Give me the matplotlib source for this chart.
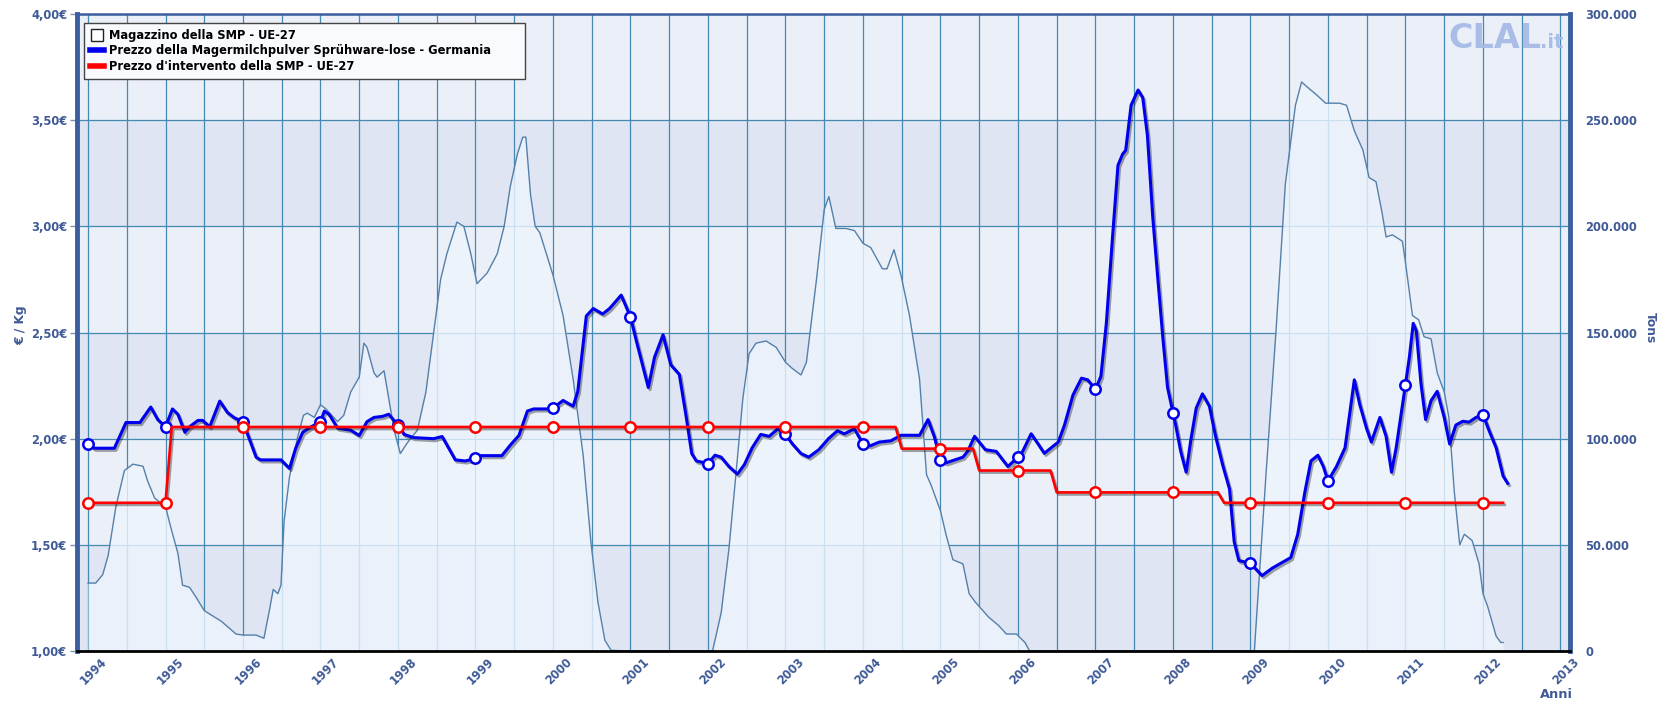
import matplotlib
matplotlib.use('Agg')
import matplotlib.pyplot as plt
import matplotlib.patheffects as pe
import matplotlib.transforms as mtrans
from matplotlib.lines import Line2D
from matplotlib.ticker import MultipleLocator, FuncFormatter

plt.rcParams['font.family'] = ['DejaVu Sans']
plt.rcParams['font.weight'] = 'bold'

### data ###

# Magazzino della SMP - UE-27 (tons)
stock_t = [1994.0, 1994.1, 1994.19, 1994.26, 1994.36, 1994.47, 1994.58, 1994.71, 1994.77, 1994.86,
           1995.0, 1995.07, 1995.16, 1995.22, 1995.31, 1995.4, 1995.5, 1995.72, 1995.91,
           1996.0, 1996.17, 1996.27, 1996.34, 1996.39, 1996.45, 1996.49, 1996.53, 1996.6, 1996.7,
           1996.78, 1996.83, 1996.92, 1997.0, 1997.07, 1997.22, 1997.3, 1997.39, 1997.5, 1997.56,
           1997.6, 1997.69, 1997.73, 1997.82, 1997.88, 1997.95, 1998.03, 1998.12, 1998.25, 1998.36,
           1998.46, 1998.55, 1998.63, 1998.76, 1998.85, 1998.94, 1999.02, 1999.15, 1999.28, 1999.37,
           1999.45, 1999.54, 1999.61, 1999.65, 1999.71, 1999.77, 1999.83, 2000.0, 2000.13, 2000.26,
           2000.39, 2000.49, 2000.58, 2000.67, 2000.75, 2001.0, 2002.0, 2002.06, 2002.17, 2002.27,
           2002.36, 2002.45, 2002.53, 2002.62, 2002.75, 2002.88, 2003.0, 2003.09, 2003.2, 2003.27,
           2003.4, 2003.5, 2003.56, 2003.65, 2003.78, 2003.89, 2004.0, 2004.1, 2004.25, 2004.31,
           2004.4, 2004.49, 2004.6, 2004.73, 2004.82, 2004.88, 2005.0, 2005.07, 2005.16, 2005.29,
           2005.37, 2005.45, 2005.62, 2005.75, 2005.85, 2005.98, 2006.09, 2006.15, 2007.0, 2008.0,
           2009.0, 2009.05, 2009.2, 2009.33, 2009.45, 2009.58, 2009.66, 2009.72, 2009.85, 2009.97,
           2010.15, 2010.24, 2010.34, 2010.45, 2010.53, 2010.62, 2010.7, 2010.75, 2010.83, 2010.96,
           2011.0, 2011.09, 2011.17, 2011.24, 2011.33, 2011.41, 2011.5, 2011.56, 2011.63, 2011.7,
           2011.76, 2011.86, 2011.95, 2012.0, 2012.06, 2012.17, 2012.23, 2012.26]
stock_v = [32000, 32000, 36000, 45000, 68000, 85000, 88000, 87000, 80000, 72000,
           68000, 58000, 46000, 31000, 30000, 25000, 19000, 14000, 8000,
           7500, 7500, 6000, 19000, 29000, 27000, 31000, 61000, 82000, 100000,
           111000, 112000, 110000, 116000, 114000, 108000, 111000, 122000, 129000, 145000,
           143000, 131000, 129000, 132000, 119000, 104000, 93000, 98000, 104000, 122000,
           150000, 175000, 187000, 202000, 200000, 187000, 173000, 178000, 187000, 200000,
           219000, 234000, 242000, 242000, 215000, 200000, 197000, 177000, 158000, 128000,
           92000, 51000, 23000, 5000, 300, 0, 0, 200, 18000, 48000,
           83000, 119000, 140000, 145000, 146000, 143000, 136000, 133000, 130000, 136000,
           175000, 208000, 214000, 199000, 199000, 198000, 192000, 190000, 180000, 180000,
           189000, 177000, 158000, 128000, 83000, 78000, 66000, 55000, 43000, 41000,
           27000, 23000, 16000, 12000, 8000, 8000, 4000, 0, 0, 0,
           0, 0, 83000, 151000, 220000, 257000, 268000, 266000, 262000, 258000,
           258000, 257000, 245000, 236000, 223000, 221000, 206000, 195000, 196000, 193000,
           183000, 158000, 156000, 148000, 147000, 131000, 122000, 110000, 75000, 50000,
           55000, 52000, 41000, 27000, 21000, 7000, 4000, 4000]

# Prezzo della Magermilchpulver Spruehware-lose - Germania (EUR/kg)
price_t = [1994.0, 1994.08, 1994.2, 1994.34, 1994.49, 1994.67, 1994.81, 1994.9, 1995.0, 1995.09,
           1995.16, 1995.25, 1995.31, 1995.42, 1995.48, 1995.57, 1995.7, 1995.8, 1995.89, 1996.0,
           1996.06, 1996.17, 1996.23, 1996.49, 1996.6, 1996.68, 1996.77, 1996.88, 1997.0, 1997.05,
           1997.11, 1997.22, 1997.39, 1997.5, 1997.6, 1997.69, 1997.8, 1997.88, 1998.0, 1998.08,
           1998.2, 1998.46, 1998.57, 1998.74, 1998.87, 1999.0, 1999.06, 1999.34, 1999.45, 1999.56,
           1999.67, 1999.75, 1999.92, 2000.0, 2000.13, 2000.26, 2000.32, 2000.43, 2000.52, 2000.64,
           2000.73, 2000.88, 2001.0, 2001.08, 2001.23, 2001.31, 2001.42, 2001.52, 2001.63, 2001.72,
           2001.79, 2001.85, 2002.0, 2002.09, 2002.17, 2002.27, 2002.38, 2002.47, 2002.57, 2002.68,
           2002.79, 2002.9, 2003.0, 2003.09, 2003.2, 2003.3, 2003.43, 2003.56, 2003.67, 2003.76,
           2003.89, 2004.0, 2004.09, 2004.21, 2004.36, 2004.49, 2004.73, 2004.84, 2004.92, 2005.0,
           2005.07, 2005.29, 2005.35, 2005.44, 2005.58, 2005.72, 2005.87, 2006.0, 2006.06, 2006.17,
           2006.26, 2006.34, 2006.52, 2006.6, 2006.71, 2006.82, 2006.9, 2007.0, 2007.07, 2007.14,
           2007.22, 2007.29, 2007.35, 2007.39, 2007.46, 2007.55, 2007.61, 2007.67, 2007.74, 2007.8,
           2007.87, 2007.93, 2008.0, 2008.04, 2008.1, 2008.17, 2008.23, 2008.3, 2008.38, 2008.47,
           2008.55, 2008.64, 2008.73, 2008.79, 2008.85, 2009.0, 2009.15, 2009.28, 2009.41, 2009.52,
           2009.61, 2009.7, 2009.78, 2009.87, 2009.94, 2010.0, 2010.11, 2010.22, 2010.28, 2010.34,
           2010.41, 2010.5, 2010.56, 2010.67, 2010.75, 2010.82, 2010.88, 2011.0, 2011.05, 2011.1,
           2011.14, 2011.2, 2011.26, 2011.33, 2011.41, 2011.5, 2011.57, 2011.65, 2011.74, 2011.82,
           2011.91, 2012.0, 2012.08, 2012.17, 2012.26, 2012.32]
price_v = [1.976, 1.955, 1.955, 1.955, 2.076, 2.076, 2.149, 2.09, 2.056, 2.14,
           2.115, 2.03, 2.056, 2.086, 2.086, 2.056, 2.177, 2.123, 2.098, 2.08,
           2.02, 1.912, 1.90, 1.90, 1.86, 1.955, 2.03, 2.056, 2.08, 2.13,
           2.115, 2.05, 2.04, 2.015, 2.08, 2.10, 2.105, 2.115, 2.064, 2.02,
           2.005, 2.0, 2.01, 1.90, 1.895, 1.907, 1.92, 1.92, 1.97, 2.015,
           2.13, 2.14, 2.14, 2.144, 2.18, 2.153, 2.223, 2.578, 2.613, 2.587,
           2.613, 2.676, 2.573, 2.454, 2.241, 2.383, 2.489, 2.348, 2.303, 2.10,
           1.93, 1.895, 1.883, 1.922, 1.913, 1.869, 1.833, 1.878, 1.957, 2.02,
           2.011, 2.046, 2.02, 1.975, 1.93, 1.913, 1.948, 2.002, 2.037, 2.023,
           2.046, 1.975, 1.966, 1.984, 1.99, 2.016, 2.016, 2.09, 2.01, 1.90,
           1.886, 1.913, 1.94, 2.011, 1.948, 1.94, 1.869, 1.913, 1.94, 2.023,
           1.975, 1.931, 1.984, 2.064, 2.206, 2.285, 2.277, 2.232, 2.294, 2.543,
           2.95, 3.287, 3.34, 3.358, 3.571, 3.642, 3.606, 3.429, 3.039, 2.773,
           2.472, 2.241, 2.122, 2.055, 1.94, 1.842, 1.993, 2.144, 2.211, 2.153,
           2.011, 1.878, 1.762, 1.514, 1.426, 1.413, 1.355, 1.39, 1.417, 1.44,
           1.55, 1.745, 1.895, 1.922, 1.869, 1.801, 1.869, 1.957, 2.117, 2.277,
           2.161, 2.046, 1.984, 2.10, 2.011, 1.842, 1.957, 2.255, 2.383, 2.543,
           2.507, 2.259, 2.09, 2.179, 2.223, 2.10, 1.975, 2.064, 2.082, 2.078,
           2.10, 2.113, 2.037, 1.957, 1.824, 1.789]

# Prezzo d'intervento della SMP - UE-27 (EUR/kg)
interv_t = [1994.0, 1995.0, 1995.08, 2004.42, 2004.5, 2005.42, 2005.5, 2006.42, 2006.5,
            2008.58, 2008.66, 2012.26]
interv_v = [1.698, 1.698, 2.055, 2.055, 1.953, 1.953, 1.850, 1.850, 1.747,
            1.747, 1.698, 1.698]

# January markers
jan_years = list(range(1994, 2013))
price_jan = [1.976, 2.056, 2.08, 2.08, 2.064, 1.907, 2.144, 2.573, 1.883, 2.02,
             1.975, 1.90, 1.913, 2.232, 2.122, 1.413, 1.801, 2.255, 2.113]
interv_jan = [1.698, 1.698, 2.055, 2.055, 2.055, 2.055, 2.055, 2.055, 2.055, 2.055,
              2.055, 1.953, 1.850, 1.747, 1.747, 1.698, 1.698, 1.698, 1.698]

x_years = list(range(1994, 2014))

labels = ['Magazzino della SMP - UE-27',
          'Prezzo della Magermilchpulver Sprühware-lose - Germania',
          "Prezzo d'intervento della SMP - UE-27"]

### plot ###

txt_col = '#3f5a96'
spine_col = '#3a5ea0'
grid_col = '#4589b3'
fs = 8.3
W, H = 1657, 701

fig = plt.figure(figsize=(W / 100, H / 100), dpi=100)
ax = fig.add_axes([77 / W, 1 - 651 / H, (1570 - 77) / W, (651 - 14) / H])
ax_p = ax.twinx()

# background bands + grid (tons axis at the back)
ax.set_facecolor('#ebeff8')
for lo in (0, 100000, 200000):
    ax.axhspan(lo, lo + 50000, color='#dfe5f2', lw=0, zorder=0)
ax.set_xlim(1993.858, 2013.123)
ax.set_ylim(0, 300000)
ax.set_xticks(x_years)
ax.xaxis.set_minor_locator(MultipleLocator(0.5))
ax.yaxis.set_major_locator(MultipleLocator(50000))
ax.set_axisbelow(True)
ax.grid(True, which='both', axis='x', color=grid_col, lw=0.9)
ax.grid(True, which='major', axis='y', color=grid_col, lw=0.9)

ax.fill_between(stock_t, stock_v, 0, color='#eef5fd', alpha=0.8, lw=0, zorder=2)
ax.plot(stock_t, stock_v, color='#5580aa', lw=1, zorder=3)

ax.yaxis.tick_right()
ax.yaxis.set_major_formatter(FuncFormatter(lambda v, p: f'{int(v):,}'.replace(',', '.')))
ax.tick_params(axis='y', which='both', length=0, pad=11, labelcolor=txt_col, labelsize=fs)
ax.tick_params(axis='x', which='both', length=0, pad=3, labelcolor=txt_col, labelsize=fs)
ax.set_xticklabels([str(y) for y in x_years], rotation=45, ha='right', va='top',
                   rotation_mode='anchor')
shift = mtrans.ScaledTranslation(12 / 100, 0, fig.dpi_scale_trans)
for lbl in ax.get_xticklabels():
    lbl.set_transform(lbl.get_transform() + shift)
for s in ax.spines.values():
    s.set_visible(False)

# price axis (front)
ax_p.set_ylim(1, 4)
ax_p.yaxis.set_major_locator(MultipleLocator(0.5))
ax_p.yaxis.tick_left()
ax_p.yaxis.set_major_formatter(FuncFormatter(lambda v, p: f'{v:.2f}€'.replace('.', ',')))
ax_p.tick_params(axis='y', length=5, width=1, color='#8090b0', pad=2,
                 labelcolor=txt_col, labelsize=fs)

shadow = [pe.SimpleLineShadow(offset=(1.2, -1.5), shadow_color='black', alpha=0.35),
          pe.Normal()]
ax_p.plot(price_t, price_v, color='#0000ee', lw=2.2, path_effects=shadow, zorder=3)
ax_p.plot(jan_years, price_jan, ls='none', marker='o', ms=7.5, mfc='white',
          mec='#0000ee', mew=1.8, zorder=4)
ax_p.plot(interv_t, interv_v, color='#ff0000', lw=1.9, path_effects=shadow, zorder=5)
ax_p.plot(jan_years, interv_jan, ls='none', marker='o', ms=7.5, mfc='white',
          mec='#ff0000', mew=1.8, zorder=6)

ax_p.spines['left'].set_color(spine_col)
ax_p.spines['left'].set_linewidth(3.5)
ax_p.spines['right'].set_color(spine_col)
ax_p.spines['right'].set_linewidth(3.5)
ax_p.spines['top'].set_color(spine_col)
ax_p.spines['top'].set_linewidth(1.8)
ax_p.spines['bottom'].set_color('black')
ax_p.spines['bottom'].set_linewidth(2)

# legend
h1 = Line2D([], [], ls='none', marker='s', ms=8, mfc='white', mec='#222222', mew=1)
h2 = Line2D([], [], color='#0000ee', lw=4)
h3 = Line2D([], [], color='#ff0000', lw=4)
leg = ax_p.legend([h1, h2, h3], labels, loc='upper left',
                  bbox_to_anchor=(84 / W, 1 - 82 / H, 441 / W, 59 / H),
                  bbox_transform=fig.transFigure, mode='expand', borderaxespad=0,
                  fancybox=False, framealpha=1, facecolor='#f8fafd', edgecolor='#444444',
                  fontsize=fs, handlelength=1.2, handletextpad=0.5,
                  labelspacing=0.22, borderpad=0.5)
leg.get_frame().set_linewidth(1)
leg.set_zorder(10)

# axis titles and logo
fig.text(21 / W, 1 - 325 / H, '€ / Kg', rotation=90, ha='center', va='center',
         color=txt_col, fontsize=fs + 0.5)
fig.text(1650 / W, 1 - 328 / H, 'Tons', rotation=270, ha='center', va='center',
         color=txt_col, fontsize=fs + 0.5)
fig.text(1556 / W, 1 - 694 / H, 'Anni', ha='center', va='center',
         color=txt_col, fontsize=fs + 1)
fig.text(1448 / W, 1 - 48 / H, 'CLAL', ha='left', va='baseline', color='#a3b8e4',
         fontsize=24, alpha=0.9)
fig.text(1540 / W, 1 - 48 / H, '.it', ha='left', va='baseline', color='#a3b8e4',
         fontsize=14, alpha=0.9)

plt.savefig('out.png', dpi=100)
